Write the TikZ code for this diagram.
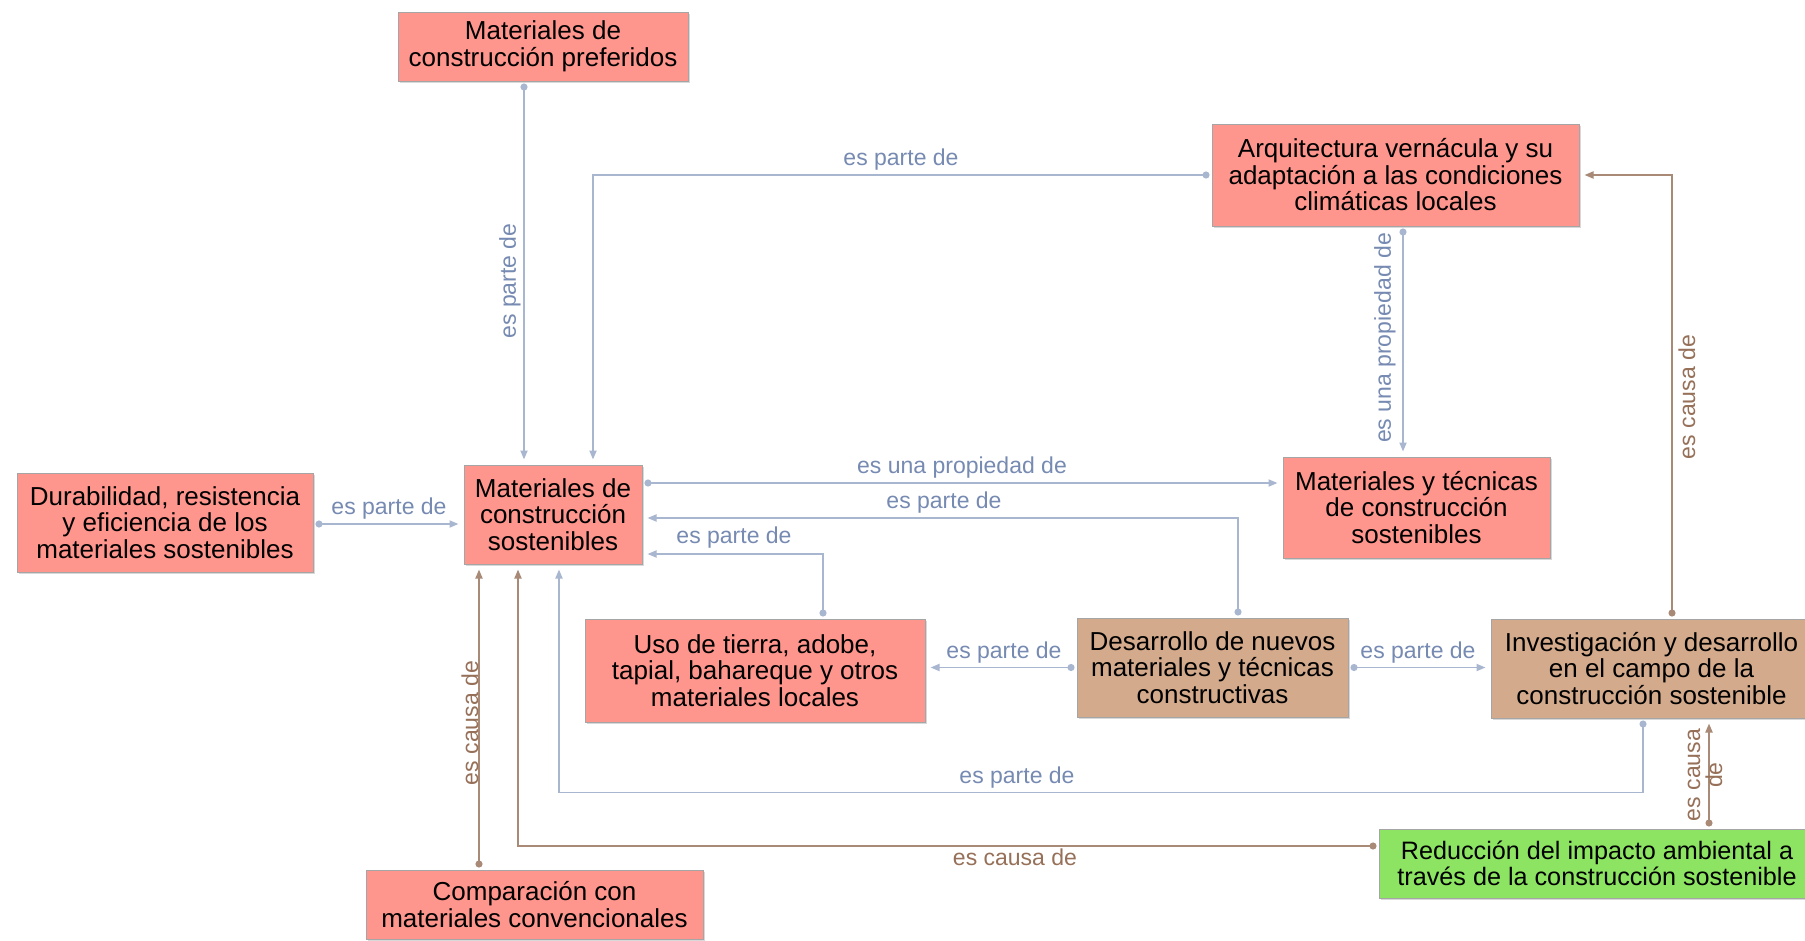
\documentclass[tikz,border=0pt]{standalone}
\usepackage{fontspec}
\setmainfont{Liberation Sans}
\usetikzlibrary{arrows.meta,calc,shadows}
\definecolor{cPink}{RGB}{255,150,142}
\definecolor{cBrown}{RGB}{212,170,140}
\definecolor{cGreen}{RGB}{140,228,98}
\definecolor{cBorder}{RGB}{165,165,165}
\definecolor{cLineBlue}{RGB}{168,182,208}
\definecolor{cLineBrown}{RGB}{168,138,118}
\definecolor{cLblBlue}{RGB}{118,138,178}
\definecolor{cLblBrown}{RGB}{150,112,88}
\tikzset{
  cbox/.style={draw=cBorder, line width=1pt, fill=cPink, align=center, inner sep=0pt,
    font=\fontsize{26}{26.5}\selectfont, text=black,
    drop shadow={shadow xshift=1.5pt, shadow yshift=-1.5pt, opacity=0.3}},
  bbox/.style={cbox, fill=cBrown},
  gbox/.style={cbox, fill=cGreen},
  pa/.style={draw=cLineBlue, line width=1.8pt, {Circle[length=7pt]}-{Triangle[length=9pt,width=7pt]}, shorten <=2pt, shorten >=5pt},
  ca/.style={pa, draw=cLineBrown},
  pl/.style={text=cLblBlue, font=\fontsize{23}{22}\selectfont, inner sep=0pt, align=center},
  cl/.style={pl, text=cLblBrown},
}
\begin{document}
\begin{tikzpicture}[x=1pt,y=-1pt]
\useasboundingbox (0,0) rectangle (1805,940);
\fill[white] (0,0) rectangle (1805,940);
\clip (0,0) rectangle (1805,940);

% nodes
\node[cbox, minimum width=290pt, minimum height=69pt] (pref) at (543,46.5) {Materiales de\\construcción preferidos};
\node[cbox, minimum width=367pt, minimum height=102pt] (arq) at (1395.5,175) {Arquitectura vernácula y su\\adaptación a las condiciones\\climáticas locales};
\node[cbox, minimum width=296pt, minimum height=99pt] (dur) at (165,522.5) {Durabilidad, resistencia\\y eficiencia de los\\materiales sostenibles};
\node[cbox, minimum width=178pt, minimum height=99pt] (mcs) at (553,514.5) {Materiales de\\construcción\\sostenibles};
\node[cbox, minimum width=267pt, minimum height=101pt] (mt) at (1416.5,507.5) {Materiales y técnicas\\de construcción\\sostenibles};
\node[cbox, minimum width=340pt, minimum height=103pt] (uso) at (755,670.5) {Uso de tierra, adobe,\\tapial, bahareque y otros\\materiales locales};
\node[bbox, minimum width=271pt, minimum height=99pt] (des) at (1212.5,667.5) {Desarrollo de nuevos\\materiales y técnicas\\constructivas};
\node[bbox, minimum width=321pt, minimum height=99pt] (inv) at (1651.5,668.5) {Investigación y desarrollo\\en el campo de la\\construcción sostenible};
\node[gbox, minimum width=436pt, minimum height=69pt, font=\fontsize{25.2}{26}\selectfont] (red) at (1597,863.5) {Reducción del impacto ambiental a\\través de la construcción sostenible};
\node[cbox, minimum width=337pt, minimum height=69pt] (comp) at (534.5,904.5) {Comparación con\\materiales convencionales};

% connectors
\draw[pa] ($(pref.south)+(-19,0)$) -- ($(mcs.north)+(-29,0)$);
\draw[pa] (arq.west) -| ($(mcs.north)+(40,0)$);
\draw[pa] ($(dur.east)+(0,1.5)$) -- ($(mcs.west)+(0,9.5)$);
\draw[pa] ($(mcs.east)+(0,-31.5)$) -- ($(mt.west)+(0,-24.5)$);
\draw[pa] ($(des.north)+(25.5,0)$) |- ($(mcs.east)+(0,3.5)$);
\draw[pa] ($(uso.north)+(68,0)$) |- ($(mcs.east)+(0,39.5)$);
\draw[pa] ($(arq.south)+(7.5,0)$) -- ($(mt.north)+(-13.5,0)$);
\draw[ca] ($(inv.north)+(20.5,0)$) |- (arq.east);
\draw[pa] (des.west) -- (des.west -| uso.east);
\draw[pa] (des.east) -- (des.east -| inv.west);
\draw[pa] ($(inv.south)+(-8.5,0)$) -- ++(0,74) -| ($(mcs.south)+(6,0)$);
\draw[ca] ($(red.west)+(0,-17.5)$) -| ($(mcs.south)+(-35,0)$);
\draw[ca] ($(comp.north)+(-55.5,0)$) -- ($(mcs.south)+(-74,0)$);
\draw[ca] ($(red.north)+(112,0)$) -- ($(inv.south)+(57.5,0)$);

% labels
\node[pl, rotate=90] (l1) at (510,281) {es parte de};
\node[pl] (l2) at (901,160) {es parte de};
\node[pl] (l3) at (389,509) {es parte de};
\node[pl] (l4) at (962,468) {es una propiedad de};
\node[pl] (l5) at (944,503) {es parte de};
\node[pl] (l6) at (734,537.5) {es parte de};
\node[pl, rotate=90] (l7) at (1385,338) {es una propiedad de};
\node[cl, rotate=90] (l8) at (1687,397) {es causa de};
\node[pl] (l9) at (1004,653) {es parte de};
\node[pl] (l10) at (1418,653) {es parte de};
\node[pl] (l11) at (1017,778) {es parte de};
\node[cl] (l12) at (1015,857) {es causa de};
\node[cl, rotate=90] (l13) at (470,723) {es causa de};
\node[cl, rotate=90] (l14) at (1705,775) {es causa\\de};
\end{tikzpicture}
\end{document}
